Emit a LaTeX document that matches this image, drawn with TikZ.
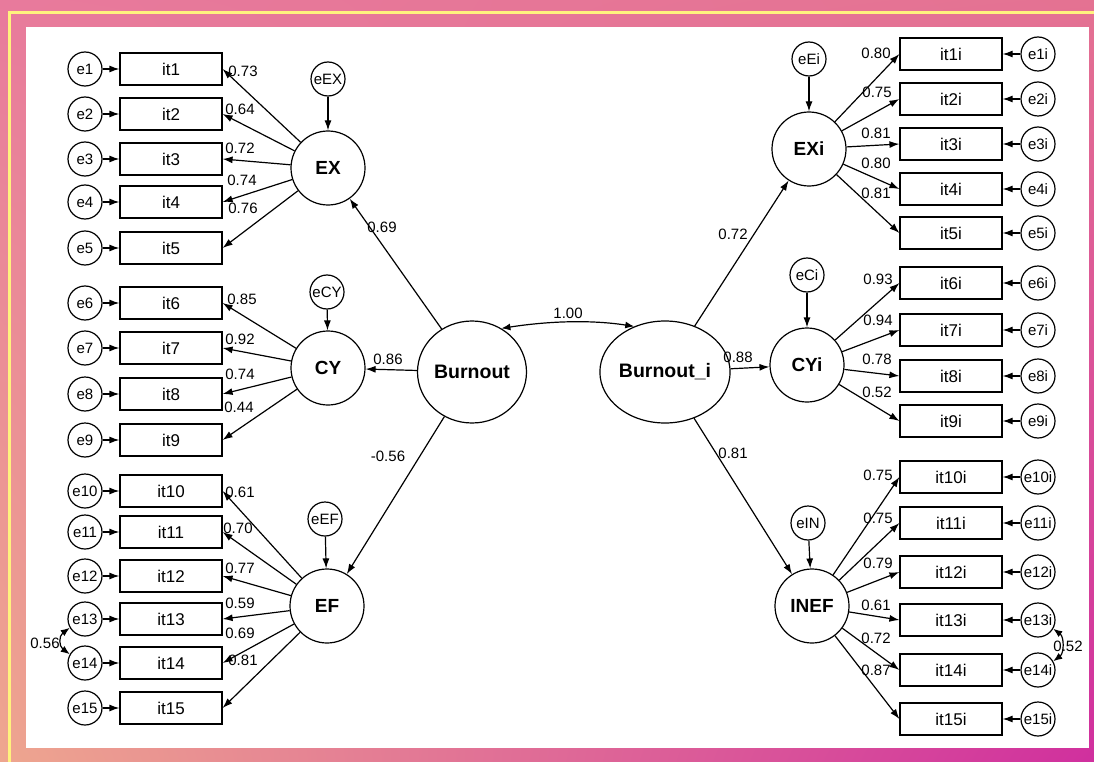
\documentclass[tikz,border=0pt]{standalone}
\usepackage{fontspec}
\setmainfont{Liberation Sans}
\usetikzlibrary{shapes.geometric,arrows.meta,shadings}
\tikzstyle{item node}   = [rectangle,draw,minimum width=102pt,minimum height=32pt,inner sep=0,font=\fontsize{17}{17}\selectfont]
\tikzstyle{error node}  = [circle,draw,fill=white,minimum size=34pt,inner sep=0,font=\fontsize{15}{15}\selectfont]
\tikzstyle{latent node} = [circle,draw,minimum size=74pt,inner sep=0,font=\bfseries\fontsize{19}{19}\selectfont]
\tikzstyle{factor node} = [ellipse,draw,minimum width=109pt,minimum height=102pt,inner sep=0,font=\bfseries\fontsize{19.5}{19.5}\selectfont]
\definecolor{bgA}{HTML}{E87A9C}
\definecolor{bgB}{HTML}{E47292}
\definecolor{bgC}{HTML}{EEA68F}
\definecolor{bgD}{HTML}{D02F9E}
\definecolor{framey}{HTML}{FFF27E}

\begin{document}
\begin{tikzpicture}[x=1pt,y=-1pt,line width=1.2pt,
                    arrow/.style={-{Latex[length=10pt,width=7pt]}},
                    cov/.style={{Latex[length=9pt,width=7pt]}-{Latex[length=9pt,width=7pt]}},
                    coef/.style={font=\fontsize{15}{15}\selectfont,inner sep=0}
                    ]
\useasboundingbox (0,0) rectangle (1094,762);
\shade[upper left=bgA,upper right=bgB,lower left=bgC,lower right=bgD] (0,0) rectangle (1094,762);
\draw[framey,line width=3pt] (9,762) -- (9,13) -- (1094,13);
\fill[white] (26,27) rectangle (1089,748);

    % second order
    \node(Burnout)[factor node] at (472,372) {Burnout};
    \node(Burnouti)[factor node] at (665,372) {Burnout\_i};

    % first order and their disturbances
    \node(EX)[latent node] at (328,168) {EX};
    \node(CY)[latent node] at (328,368) {CY};
    \node(EF)[latent node] at (327,606) {EF};
    \node(EXi)[latent node] at (809,149) {EXi};
    \node(CYi)[latent node] at (807,365) {CYi};
    \node(INEF)[latent node] at (812,606) {INEF};
    \node(eEX)[error node] at (328,79) {eEX};
    \node(eCY)[error node] at (327,292) {eCY};
    \node(eEF)[error node] at (325,519) {eEF};
    \node(eEi)[error node] at (809,59) {eEi};
    \node(eCi)[error node] at (807,275) {eCi};
    \node(eIN)[error node] at (808,523) {eIN};
    \foreach \e/\f in {eEX/EX,eCY/CY,eEF/EF,eEi/EXi,eCi/CYi,eIN/INEF} \draw[arrow] (\e) -- (\f);

    % left items
    \foreach \n/\y/\f/\v/\lx/\ly in {1/69/EX/0.73/243/71, 2/114/EX/0.64/240/109, 3/159/EX/0.72/240/148,
        4/202/EX/0.74/242/180, 5/248/EX/0.76/243/208, 6/303/CY/0.85/242/299, 7/348/CY/0.92/240/339,
        8/394/CY/0.74/240/374, 9/440/CY/0.44/239/407, 10/491/EF/0.61/240/492, 11/532/EF/0.70/238/528,
        12/576/EF/0.77/240/568, 13/619/EF/0.59/240/603, 14/663/EF/0.69/240/633, 15/708/EF/0.81/243/660}{
        \node(it\n)[item node] at (171,\y) {it\n};
        \node(e\n)[error node] at (85,\y) {e\n};
        \draw[arrow] (e\n) -- (it\n);
        \draw[arrow] (\f) -- (it\n.east);
        \node(c\n)[coef] at (\lx,\ly) {\v};
    }

    % right items
    \foreach \n/\y/\f/\v/\lx/\ly in {1/54/EXi/0.80/876/53, 2/99/EXi/0.75/877/92, 3/144/EXi/0.81/876/133,
        4/189/EXi/0.80/876/163, 5/233/EXi/0.81/876/193, 6/283/CYi/0.93/878/279, 7/330/CYi/0.94/878/320,
        8/376/CYi/0.78/877/359, 9/421/CYi/0.52/877/392, 10/477/INEF/0.75/878/475, 11/523/INEF/0.75/878/518,
        12/572/INEF/0.79/878/563, 13/620/INEF/0.61/876/605, 14/670/INEF/0.72/876/638, 15/719/INEF/0.87/876/670}{
        \node(iti\n)[item node] at (951,\y) {it\n{}i};
        \node(ei\n)[error node] at (1038,\y) {e\n{}i};
        \draw[arrow] (ei\n) -- (iti\n);
        \draw[arrow] (\f) -- (iti\n.west);
        \node(ci\n)[coef] at (\lx,\ly) {\v};
    }

    % structural paths
    \draw[arrow] (Burnout) -- (EX) node(wEX)[coef] at (382,227) {0.69};
    \draw[arrow] (Burnout) -- (CY) node(wCY)[coef] at (388,359) {0.86};
    \draw[arrow] (Burnout) -- (EF) node(wEF)[coef] at (388,456) {-0.56};
    \draw[arrow] (Burnouti) -- (EXi) node(wEXi)[coef] at (733,234) {0.72};
    \draw[arrow] (Burnouti) -- (CYi) node(wCYi)[coef] at (738,357) {0.88};
    \draw[arrow] (Burnouti) -- (INEF) node(wIN)[coef] at (733,453) {0.81};

    % covariances
    \draw[cov] (Burnout.56) .. controls +(45,-7) and +(-45,-7) .. (Burnouti.124);
    \node(r)[coef] at (568,313) {1.00};
    \draw[cov] (e13.210) .. controls +(-11,8) and +(-11,-8) .. (e14.150);
    \node(r13)[coef] at (45,643) {0.56};
    \draw[cov] (ei13.-30) .. controls +(11,8) and +(11,-8) .. (ei14.30);
    \node(ri13)[coef] at (1068,646) {0.52};

\end{tikzpicture}
\end{document}
